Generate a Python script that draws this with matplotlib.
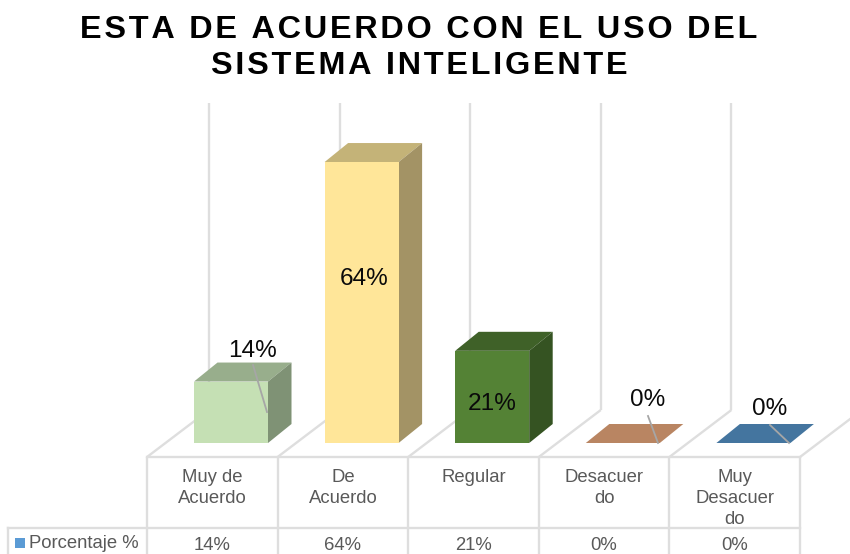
import matplotlib
matplotlib.use("Agg")
import matplotlib.pyplot as plt
from matplotlib.patches import Polygon, Rectangle

plt.rcParams['font.family'] = ['Liberation Sans', 'DejaVu Sans']

title_lines = ["ESTA DE ACUERDO CON EL USO DEL", "SISTEMA INTELIGENTE"]
categories = ["Muy de\nAcuerdo", "De\nAcuerdo", "Regular", "Desacuer\ndo", "Muy\nDesacuer\ndo"]
values = [14, 64, 21, 0, 0]
table_labels = ["14%", "64%", "21%", "0%", "0%"]
series_name = "Porcentaje %"
front = ["#C5E0B4", "#FFE699", "#548235", "#C4865F", "#44759F"]
top = ["#98AE8C", "#C4B378", "#3F6128", "#B98562", "#44759F"]
side = ["#7F9275", "#A39365", "#355322", "#8A6247", "#335877"]
label_pos = [(253, 351), (364, 279), (492, 404), (648, 400), (770, 409)]
leaders = [((253, 365), (267, 412)), None, None, ((648, 416), (658, 443)), ((770, 425), (789, 443))]

W, H = 850, 554
fig = plt.figure(figsize=(W / 100, H / 100), dpi=100)
ax = fig.add_axes([0, 0, 1, 1])
ax.set_xlim(0, W)
ax.set_ylim(H, 0)
ax.axis("off")

GRID = "#DEDEDE"
TXT = "#595959"
lw = 1.7
cell0, cell_w = 147.0, 130.6
floor_y, back_dx, back_dy = 457, 62, -47
bar0, bar_w = 194.0, 74
base_y, px_per_pct = 443, 4.39
dx, dy = 23.5, -19


def cell_x(i):
    return cell0 + i * cell_w


# walls and floor
for i in range(len(categories) + 1):
    x = cell_x(i)
    ax.plot([x, x + back_dx], [floor_y, floor_y + back_dy], color=GRID, lw=lw, zorder=1, solid_capstyle="butt")
    ax.plot([x + back_dx] * 2, [floor_y + back_dy, 103], color=GRID, lw=lw, zorder=1, solid_capstyle="butt")
    ax.plot([x, x], [floor_y, H], color=GRID, lw=lw, zorder=1, solid_capstyle="butt")
ax.plot([cell_x(0), cell_x(5)], [floor_y, floor_y], color=GRID, lw=lw, zorder=1)
ax.plot([8, cell_x(5)], [528, 528], color=GRID, lw=lw, zorder=1)
ax.plot([8, 8], [528, H], color=GRID, lw=lw, zorder=1)

# bars
for i, v in enumerate(values):
    x0 = bar0 + i * cell_w
    x1 = x0 + bar_w
    yt = base_y - v * px_per_pct
    ax.add_patch(Polygon([(x0, yt), (x1, yt), (x1 + dx, yt + dy), (x0 + dx, yt + dy)], fc=top[i], ec="none", zorder=3))
    if v > 0:
        ax.add_patch(Polygon([(x1, base_y), (x1, yt), (x1 + dx, yt + dy), (x1 + dx, base_y + dy)], fc=side[i], ec="none", zorder=3))
        ax.add_patch(Rectangle((x0, yt), bar_w, v * px_per_pct, fc=front[i], ec="none", zorder=3))

# data labels and leaders
for i, v in enumerate(values):
    if leaders[i]:
        (a, b), (c, d) = leaders[i]
        ax.plot([a, c], [b, d], color="#A6A6A6", lw=1.3, zorder=4)
    ax.text(*label_pos[i], f"{v}%", fontsize=17.6, color="#0A0A0A", ha="center", va="center", zorder=5)

# table
for i, c in enumerate(categories):
    xc = cell_x(i) + cell_w / 2
    ax.text(xc, 469, c, fontsize=13.3, color=TXT, ha="center", va="top", linespacing=1.32, zorder=5)
    ax.text(xc, 545, table_labels[i], fontsize=13.3, color=TXT, ha="center", va="center", zorder=5)
ax.add_patch(Rectangle((15, 538), 10, 10, fc="#5B9BD5", ec="none", zorder=5))
ax.text(29, 544, series_name, fontsize=13.3, color=TXT, ha="left", va="center", zorder=5)

# title, tracked out with hair spaces
HAIR = "\u200a"
for line, y in zip(title_lines, (30, 66)):
    ax.text(419, y, HAIR.join(line), fontsize=23.3, fontweight="bold", color="black", ha="center", va="center", zorder=5)

fig.savefig("out.png", dpi=100)
